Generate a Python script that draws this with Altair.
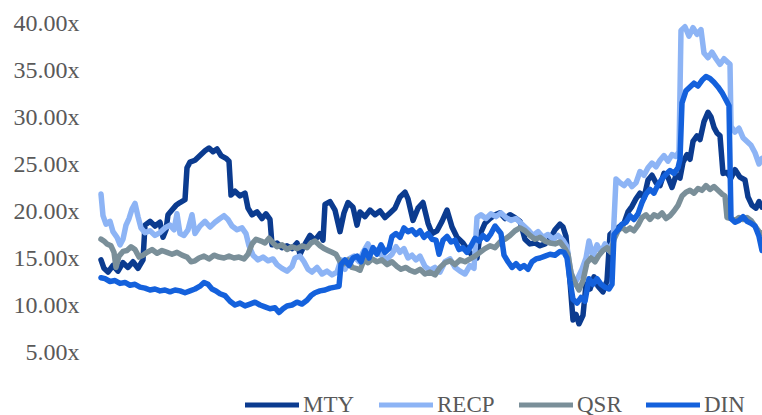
import altair as alt
import pandas as pd

# period index (roughly weekly observations), value = EV/EBITDA multiple
mty = [(101,14.8),(104,13.9),(108,13.5),(113,14.2),(118,13.6),(123,14.5),(128,14.0),(133,14.6),(138,13.9),(143,14.8),
       (145,18.5),(150,18.9),(155,18.4),(160,18.8),(163,17.2),(166,18.0),(168,19.6),(172,20.1),(176,20.6),(180,20.9),
       (185,21.2),(187,24.6),(190,25.2),(195,25.4),(200,25.9),(205,26.4),(209,26.7),(213,26.3),(217,26.6),(221,25.9),
       (226,25.6),(229,25.3),(231,21.7),(235,22.1),(240,21.6),(245,21.9),(248,20.3),(252,19.6),(257,19.9),(262,19.2),
       (266,19.7),(270,19.1),(272,16.4),(277,16.6),(282,16.1),(287,16.3),(292,16.0),(297,16.6),(300,15.4),(304,16.3),
       (310,17.4),(315,16.9),(320,17.6),(323,16.9),(325,20.7),(330,21.0),(335,20.1),(340,17.8),(344,19.8),(348,20.9),
       (353,20.4),(357,18.5),(360,19.9),(365,19.4),(370,20.1),(375,19.6),(380,20.0),(385,19.3),(390,19.8),(395,20.3),
       (400,21.5),(405,22.0),(408,21.3),(413,19.0),(418,20.3),(423,20.9),(428,18.7),(432,17.6),(437,17.9),(442,18.9),
       (447,20.1),(452,18.3),(457,17.2),(463,16.6),(468,15.8),(473,15.2),(477,15.0),(480,17.5),(485,18.7),(490,19.2),
       (495,19.6),(500,19.8),(505,19.2),(510,19.6),(515,19.3),(520,18.9),(525,17.0),(530,16.5),(535,16.6),(540,16.3),
       (545,16.5),(550,17.0),(555,18.0),(560,18.6),(563,18.3),(566,17.3),(570,12.5),(573,8.4),(576,9.0),(579,8.0),
       (583,8.9),(586,12.2),(590,11.7),(594,13.0),(598,12.0),(603,11.4),(607,12.6),(610,17.5),(614,17.9),(619,18.3),
       (624,18.7),(628,19.9),(632,20.5),(636,21.3),(640,21.9),(644,21.4),(648,23.3),(652,23.8),(656,23.0),(660,22.7),
       (664,24.0),(668,23.6),(672,22.5),(676,23.8),(680,23.5),(683,25.2),(687,26.0),(690,25.5),(693,27.4),(697,28.0),
       (700,27.6),(704,29.5),(708,30.5),(711,30.0),(714,28.9),(717,28.3),(720,28.0),(723,24.0),(727,24.1),(731,23.5),
       (735,24.4),(740,23.6),(745,23.3),(748,21.5),(752,20.6),(756,20.3),(759,21.0),(762,20.4)]

recp = [(101,21.8),(103,19.5),(106,18.6),(110,18.9),(113,17.8),(117,17.2),(120,16.4),(123,17.0),(126,18.5),(129,19.2),
        (132,20.2),(135,20.8),(138,19.4),(141,18.2),(145,17.7),(150,17.9),(155,17.4),(160,17.7),(165,18.2),(170,18.5),
        (174,18.0),(177,19.7),(180,17.6),(184,17.4),(188,18.0),(192,19.6),(195,17.6),(200,18.4),(205,18.9),(210,18.3),
        (215,18.8),(220,19.2),(224,19.5),(228,19.1),(232,18.4),(237,18.0),(242,18.2),(246,17.6),(249,16.3),(253,15.3),
        (258,14.8),(263,15.1),(268,14.7),(273,14.9),(277,14.3),(282,13.9),(287,13.6),(292,14.1),(295,15.0),(300,15.2),
        (304,14.6),(308,13.8),(312,13.5),(317,14.0),(322,13.3),(327,13.6),(332,13.2),(337,13.5),(341,14.8),(345,13.8),
        (349,14.9),(354,15.2),(359,14.6),(363,15.6),(368,16.5),(372,15.6),(377,15.9),(382,15.2),(387,14.9),(392,15.4),
        (396,16.2),(400,15.6),(404,16.0),(408,15.0),(412,15.3),(416,14.8),(420,15.2),(425,14.1),(430,13.7),(435,14.0),
        (440,13.5),(445,14.6),(450,14.9),(455,14.0),(460,13.6),(465,13.3),(470,14.2),(474,13.9),(477,19.3),(481,19.6),
        (486,19.2),(491,19.7),(496,19.4),(501,19.8),(506,19.3),(511,19.0),(516,19.2),(521,18.7),(525,18.3),(529,17.9),
        (533,17.4),(538,17.8),(543,17.2),(548,17.5),(553,17.0),(558,17.4),(563,16.9),(567,16.2),(570,14.0),(574,12.2),
        (578,12.9),(582,13.8),(586,15.0),(589,16.8),(593,15.2),(597,16.4),(601,15.6),(605,16.5),(609,15.8),(613,16.7),
        (616,23.4),(620,23.0),(624,22.7),(628,23.2),(632,22.6),(636,23.0),(640,24.2),(644,23.8),(648,24.6),(652,25.1),
        (656,24.7),(660,25.4),(664,25.9),(668,25.3),(672,26.0),(676,25.8),(679,26.3),(681,39.2),(685,39.6),(689,38.6),
        (693,39.5),(697,38.8),(701,39.3),(704,36.8),(708,36.3),(712,36.9),(716,36.2),(720,35.6),(724,36.2),(728,35.8),
        (730,35.6),(731,29.0),(735,28.4),(739,28.8),(743,27.8),(747,27.4),(751,27.0),(755,26.2),(759,25.0),(762,25.6)]

qsr = [(101,17.0),(104,16.8),(107,16.5),(111,16.3),(114,15.6),(116,14.0),(119,15.2),(123,15.7),(127,15.8),(131,16.2),
       (135,15.9),(139,15.1),(143,15.3),(147,15.6),(152,15.9),(157,15.5),(162,15.8),(167,15.6),(172,15.4),(177,15.6),
       (182,15.3),(187,15.1),(191,14.6),(195,14.7),(199,15.0),(204,15.2),(209,14.9),(214,15.3),(219,15.1),(224,15.0),
       (229,15.2),(234,15.0),(239,15.1),(244,14.9),(248,15.4),(252,16.5),(256,17.0),(261,16.8),(265,16.6),(269,17.1),
       (273,16.6),(277,16.2),(282,16.4),(287,15.9),(292,16.2),(297,16.0),(302,16.3),(307,16.1),(311,16.6),(315,16.8),
       (320,16.3),(324,16.0),(328,15.8),(332,15.6),(336,15.4),(340,14.6),(344,14.4),(348,14.8),(352,14.0),(356,13.9),
       (360,13.7),(364,14.8),(368,14.5),(372,14.9),(377,14.6),(382,14.8),(387,14.3),(392,14.6),(397,14.1),(401,13.8),
       (406,14.0),(410,13.7),(415,13.5),(420,13.8),(425,13.3),(430,13.5),(435,13.2),(440,14.0),(445,14.5),(450,14.7),
       (455,14.3),(460,14.8),(465,14.6),(470,14.9),(475,15.2),(480,15.6),(485,16.0),(490,16.3),(495,16.1),(500,16.7),
       (505,17.0),(510,17.4),(515,17.9),(520,18.2),(525,17.9),(530,17.4),(535,17.0),(540,17.2),(545,16.8),(550,16.6),
       (555,16.5),(560,16.7),(565,16.0),(568,15.4),(571,13.4),(575,12.4),(579,11.6),(583,12.6),(587,14.5),(591,15.0),
       (595,14.6),(599,15.3),(603,15.8),(607,16.1),(611,15.6),(614,17.0),(618,17.9),(622,18.3),(626,17.9),(630,18.2),
       (634,17.9),(638,18.5),(642,19.3),(646,19.6),(650,19.1),(654,19.6),(658,19.4),(662,19.8),(666,19.2),(670,19.5),
       (674,20.0),(678,20.6),(682,21.6),(686,22.0),(690,22.2),(694,21.9),(698,22.4),(702,22.2),(706,22.7),(710,22.3),
       (714,22.6),(718,22.2),(722,21.8),(725,21.6),(727,19.3),(731,19.2),(735,19.0),(739,19.3),(743,19.1),(747,19.3),
       (751,19.0),(755,18.4),(759,17.8),(762,17.6)]

din = [(101,12.9),(105,12.8),(110,12.5),(115,12.6),(120,12.3),(125,12.4),(130,12.1),(135,12.2),(140,11.9),(145,11.8),
       (150,11.6),(155,11.7),(160,11.5),(165,11.6),(170,11.4),(175,11.6),(180,11.5),(185,11.3),(190,11.5),(195,11.7),
       (200,12.0),(204,12.4),(208,12.2),(212,11.7),(216,11.5),(220,11.2),(225,11.0),(230,10.4),(235,10.0),(240,10.2),
       (245,9.9),(250,10.1),(255,10.3),(260,10.0),(265,9.8),(270,9.6),(275,9.7),(279,9.2),(283,9.6),(287,9.9),
       (292,10.0),(297,10.3),(302,10.1),(307,10.5),(311,11.0),(315,11.3),(320,11.5),(325,11.6),(330,11.8),(335,11.9),
       (339,12.0),(341,14.3),(345,14.8),(349,14.2),(353,15.0),(357,15.2),(361,14.6),(365,15.8),(369,15.0),(373,16.1),
       (377,15.4),(381,16.4),(385,15.6),(389,16.0),(392,17.3),(396,17.6),(400,17.2),(404,18.2),(408,17.8),(412,18.0),
       (416,17.5),(420,17.9),(424,17.2),(428,17.6),(432,17.0),(436,16.9),(439,15.4),(443,16.9),(447,17.3),(451,16.7),
       (455,16.9),(459,15.9),(463,16.1),(467,15.6),(471,16.3),(475,17.1),(479,16.8),(483,17.4),(487,17.0),(491,17.6),
       (495,18.4),(498,18.0),(501,17.6),(504,15.3),(508,14.6),(512,14.0),(516,14.4),(520,13.9),(524,14.2),(528,13.8),
       (532,14.6),(536,14.9),(540,15.0),(545,15.2),(550,15.4),(555,15.3),(560,15.7),(564,15.6),(567,15.0),(570,12.6),
       (573,10.6),(577,10.2),(581,10.8),(585,10.4),(589,12.8),(593,12.2),(597,12.8),(601,12.2),(605,11.9),(609,11.7),
       (612,12.2),(614,17.5),(618,18.0),(622,18.6),(626,18.8),(630,19.5),(634,19.1),(638,19.7),(642,20.9),(646,21.8),
       (650,22.3),(654,21.9),(658,22.8),(662,23.4),(666,23.9),(670,24.3),(674,24.0),(678,24.6),(680,25.5),(682,31.5),
       (686,32.8),(690,33.2),(694,33.6),(698,33.3),(702,33.9),(706,34.3),(710,34.1),(714,33.7),(718,33.2),(722,32.6),
       (726,31.8),(729,31.2),(731,19.2),(735,18.8),(739,19.0),(743,19.4),(747,18.9),(751,18.7),(755,18.4),(759,17.3),
       (762,15.8)]

series_names = ["MTY", "RECP", "QSR", "DIN"]
series_colors = ["#0B3B8F", "#8DB4F5", "#7A8F99", "#1461DC"]
y_ticks = [5, 10, 15, 20, 25, 30, 35, 40]

rows = []
for name, data in zip(series_names, [mty, recp, qsr, din]):
    for t, v in data:
        rows.append({"period": t, "multiple": v, "company": name})
df = pd.DataFrame(rows)

FONT = "Liberation Serif"
TXT = "#595959"

chart = alt.Chart(df).mark_line(strokeWidth=5.5, strokeJoin="round", strokeCap="round").encode(
    x=alt.X("period:Q", axis=None, scale=alt.Scale(domain=[101, 762], nice=False, zero=False)),
    y=alt.Y("multiple:Q", scale=alt.Scale(domain=[0, 40], nice=False),
            axis=alt.Axis(values=y_ticks, labelExpr="format(datum.value, '.2f') + 'x'",
                          domain=False, ticks=False, grid=False, title=None,
                          labelFont=FONT, labelFontSize=24, labelColor=TXT, labelPadding=22)),
    color=alt.Color("company:N",
                    scale=alt.Scale(domain=series_names, range=series_colors),
                    legend=alt.Legend(orient="none", direction="horizontal", title=None,
                                      legendX=155, legendY=366, padding=0,
                                      symbolType="M-2,0H2", symbolSize=729, symbolStrokeWidth=5,
                                      labelFont=FONT, labelFontSize=23, labelColor=TXT,
                                      labelOffset=15, columnPadding=14)),
    order=alt.Order("period:Q"),
    detail="company:N",
).properties(
    width=661, height=376,
    autosize=alt.AutoSizeParams(type="none"),
    padding={"left": 101, "top": 23, "right": 0, "bottom": 16},
).configure_view(stroke=None)

chart.save("out.html", embed_options={"renderer": "svg", "actions": False})
